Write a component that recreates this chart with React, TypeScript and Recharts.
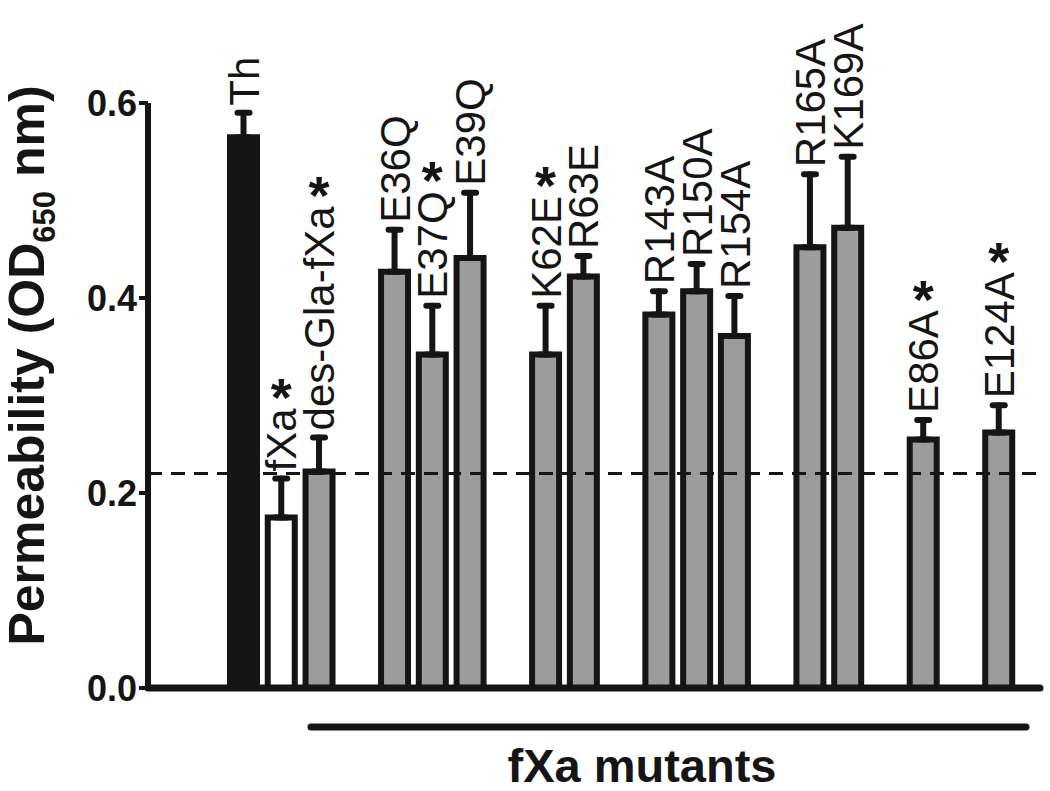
import { BarChart, Bar, XAxis, YAxis, ErrorBar, ReferenceLine, LabelList, Cell, Label } from "recharts";

// one slot per bar, "" = empty slot between groups
const variants = ["Th", "fXa", "des-Gla-fXa", "", "E36Q", "E37Q", "E39Q", "", "K62E", "R63E", "", "R143A", "R150A", "R154A", "", "R165A", "K169A", "", "E86A", "", "E124A"];
const means = [0.565, 0.175, 0.222, null, 0.427, 0.342, 0.441, null, 0.342, 0.422, null, 0.383, 0.407, 0.361, null, 0.452, 0.472, null, 0.255, null, 0.262];
const sems = [0.025, 0.04, 0.035, null, 0.043, 0.05, 0.067, null, 0.05, 0.021, null, 0.024, 0.028, 0.041, null, 0.075, 0.073, null, 0.02, null, 0.028];
const significant = [false, true, true, false, false, true, false, false, true, false, false, false, false, false, false, false, false, false, true, false, true];
const yTicks = [0, 0.2, 0.4, 0.6];
const controlLevel = 0.22;

const INK = "#151515";
const FONT = "'Liberation Sans', Arial, sans-serif";

// Arial / Liberation Sans advance widths (1/1000 em)
const charW: Record<string, number> = {
    "0": 556, "1": 556, "2": 556, "3": 556, "4": 556, "5": 556, "6": 556, "7": 556, "8": 556, "9": 556,
    A: 667, E: 667, G: 778, K: 667, Q: 778, R: 722, T: 611, X: 667,
    a: 556, d: 556, e: 556, f: 278, h: 556, l: 222, s: 500, "-": 333,
};
const textWidth = (s: string, size: number) =>
    s.split("").reduce((w, c) => w + (charW[c] ?? 556), 0) * size / 1000;

const data = variants.map((name, i) => ({
    name,
    mean: means[i],
    err: sems[i] == null ? null : [0, sems[i]],
}));

const barFill = (i: number) => (i === 0 ? INK : i === 1 ? "#ffffff" : "#9c9c9c");

const LABEL_SIZE = 42;

const renderBarLabel = (props: any) => {
    const { x, y, width, height, value } = props;
    const i = variants.indexOf(String(value));
    if (!value || i < 0) return null;
    const mean = means[i];
    const sem = sems[i];
    if (mean == null || sem == null) return null;
    const cx = Number(x) + Number(width) / 2;
    const errPx = (sem / mean) * Number(height);
    const startY = Number(y) - errPx - 7;
    const endY = startY - textWidth(variants[i], LABEL_SIZE);
    return (
        <g>
            <text
                x={cx} y={startY}
                transform={`rotate(-90, ${cx}, ${startY})`}
                dy="0.36em"
                textAnchor="start"
                fontFamily={FONT} fontSize={LABEL_SIZE} fill={INK}>
                {variants[i]}
            </text>
            {significant[i] && (
                <text
                    x={cx} y={endY + 8}
                    textAnchor="middle"
                    fontFamily={FONT} fontWeight="bold" fontSize={54} fill={INK}>
                    *
                </text>
            )}
        </g>
    );
};

const renderYTitle = (props: any) => {
    const { viewBox } = props;
    const cx = 44;
    const cy = viewBox.y + viewBox.height / 2 - 30;
    return (
        <text
            x={cx} y={cy}
            transform={`rotate(-90, ${cx}, ${cy})`}
            textAnchor="middle"
            fontFamily={FONT} fontWeight="bold" fontSize={50} fill={INK}>
            Permeability (OD
            <tspan fontSize={31} dy={11}>650</tspan>
            <tspan dy={-11}> nm)</tspan>
        </text>
    );
};

const renderXTitle = (props: any) => {
    const { viewBox } = props;
    const x1 = viewBox.x + 163;
    const x2 = viewBox.x + viewBox.width - 14;
    const lineY = viewBox.y + 39;
    return (
        <g>
            <line x1={x1} x2={x2} y1={lineY} y2={lineY} stroke={INK} strokeWidth={7} strokeLinecap="round" />
            <text
                x={642} y={viewBox.y + 94}
                textAnchor="middle"
                fontFamily={FONT} fontWeight="bold" fontSize={47} fill={INK}>
                fXa mutants
            </text>
        </g>
    );
};

export default function App() {
    return (
        <div style={{ position: "absolute", left: 0, top: 0, width: 1050, height: 791, background: "#fff" }}>
            <BarChart
                width={1050} height={791}
                data={data}
                margin={{ top: 103, right: 10, bottom: 3, left: 0 }}
                barSize={27}
            >
                <XAxis
                    dataKey="name"
                    height={100}
                    tick={false} tickLine={false}
                    padding={{ left: 77, right: 22 }}
                    axisLine={{ stroke: INK, strokeWidth: 7, strokeLinecap: "round" }}>
                    <Label content={renderXTitle} />
                </XAxis>
                <YAxis
                    width={148}
                    domain={[0, 0.6]}
                    ticks={yTicks}
                    interval={0}
                    tickFormatter={(v: number) => v.toFixed(1)}
                    tickSize={9}
                    tick={{ fill: INK, fontSize: 36, fontWeight: "bold", fontFamily: FONT }}
                    tickLine={{ stroke: INK, strokeWidth: 4 }}
                    axisLine={{ stroke: INK, strokeWidth: 6 }}>
                    <Label content={renderYTitle} />
                </YAxis>
                <Bar dataKey="mean" stroke={INK} strokeWidth={6} isAnimationActive={false}>
                    {data.map((_, i) => (
                        <Cell key={i} fill={barFill(i)} />
                    ))}
                    <ErrorBar dataKey="err" direction="y" width={6} stroke={INK} strokeWidth={6} strokeLinecap="round" />
                    <LabelList dataKey="name" content={renderBarLabel} />
                </Bar>
                <ReferenceLine y={controlLevel} stroke={INK} strokeWidth={3} strokeDasharray="14 9" />
            </BarChart>
        </div>
    );
}
